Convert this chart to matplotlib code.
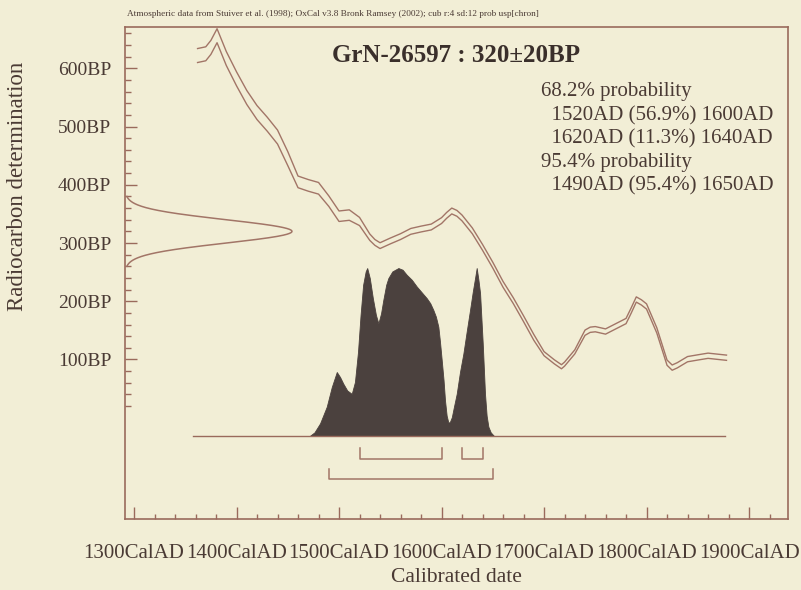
import matplotlib
matplotlib.use('Agg')
import matplotlib.pyplot as plt
import numpy as np

plt.rcParams['font.family'] = ['Liberation Serif', 'DejaVu Serif']

# ---------------- data ----------------
title = "GrN-26597 : 320\u00b120BP"
caption = ("Atmospheric data from Stuiver et al. (1998); OxCal v3.8 Bronk Ramsey (2002); "
           "cub r:4 sd:12 prob usp[chron]")
c14_age = 320
c14_err = 20

cal_years = [1362, 1370, 1375, 1381, 1390, 1400, 1410, 1420, 1430, 1440, 1450, 1460, 1470,
             1480, 1490, 1500, 1510, 1520, 1530, 1535, 1540, 1550, 1560, 1570, 1580, 1590,
             1600, 1605, 1610, 1615, 1620, 1630, 1640, 1650, 1660, 1670, 1680, 1690, 1700, 1710,
             1717, 1720, 1730, 1740, 1745, 1750, 1760, 1770, 1780, 1785, 1790, 1795, 1800, 1810,
             1820, 1825, 1830, 1840, 1850, 1860, 1870, 1878]
cal_center = [622, 625, 636, 656, 617, 582, 550, 524, 504, 482, 445, 405, 399,
              394, 372, 346, 348, 337, 310, 301, 295.5, 303.5, 311, 320, 324, 327.5,
              338.5, 347.5, 355, 351, 343, 321, 292.5, 262, 229, 201, 170, 138, 110, 96,
              87.5, 92, 113, 146, 151, 152, 148, 157, 166, 184, 203, 198, 191, 150,
              94.5, 86, 90, 100.5, 103.5, 106.4, 104.5, 103]
cal_sigma = [12, 12, 12, 12, 12, 12, 12, 12, 12, 12, 12, 10, 10,
             10, 9, 9, 9, 7, 5.5, 5, 5, 5, 5, 5, 5, 5,
             5, 5, 5, 5, 5, 5, 5, 5, 5, 5, 5, 5, 3.5, 3.5,
             3.5, 3.5, 3.5, 4.5, 4.5, 4.5, 4.5, 4.5, 4.5, 4.5, 4.5, 4.5, 4.5, 4.5,
             4.5, 4.5, 4.5, 4.5, 4.5, 4.5, 4.5, 4.5]

post_years = [1471.7, 1476, 1481.5, 1488, 1492.9, 1497.8, 1501, 1504.2, 1508, 1512.4,
              1515.5, 1518.5, 1521, 1523.5, 1526, 1527.5, 1530, 1533, 1536, 1538.4,
              1541, 1543.2, 1546, 1548.1, 1552, 1557.9, 1562, 1566, 1571, 1575.8,
              1580, 1585.6, 1589, 1592, 1594.5, 1596.9, 1598.5, 1600.2, 1602, 1603.4,
              1605, 1606.6, 1608, 1610, 1612, 1614.8, 1618, 1621.3, 1624.5, 1627.8,
              1630.5, 1632.7, 1634.3, 1636, 1637.6, 1640.2, 1642.4, 1644, 1645.7, 1648, 1651]
post_prob = [0.0, 0.02, 0.074, 0.173, 0.29, 0.38, 0.35, 0.31, 0.27, 0.25,
             0.32, 0.5, 0.72, 0.9, 0.98, 1.0, 0.94, 0.82, 0.72, 0.67,
             0.73, 0.81, 0.9, 0.94, 0.98, 1.0, 0.99, 0.96, 0.93, 0.89,
             0.86, 0.82, 0.79, 0.75, 0.71, 0.65, 0.56, 0.45, 0.33, 0.21,
             0.12, 0.08, 0.08, 0.11, 0.17, 0.25, 0.38, 0.49, 0.62, 0.75,
             0.86, 0.94, 1.0, 0.93, 0.85, 0.55, 0.25, 0.12, 0.054, 0.02, 0.0]

range68 = [(1520, 1600), (1620, 1640)]
range95 = [(1490, 1650)]
summary_lines = ["68.2% probability",
                 "  1520AD (56.9%) 1600AD",
                 "  1620AD (11.3%) 1640AD",
                 "95.4% probability",
                 "  1490AD (95.4%) 1650AD"]

x_ticks = [1300, 1400, 1500, 1600, 1700, 1800, 1900]
x_labels = ["1300CalAD", "1400CalAD", "1500CalAD", "1600CalAD",
            "1700CalAD", "1800CalAD", "1900CalAD"]
y_ticks = [100, 200, 300, 400, 500, 600]
y_labels = ["100BP", "200BP", "300BP", "400BP", "500BP", "600BP"]

# ---------------- style / layout ----------------
bg = '#F2EED6'
frame_col = '#9A6A5C'
curve_col = '#A27567'
text_col = '#4A3A34'
fill_col = '#4B413E'

fig = plt.figure(figsize=(8.01, 5.90), dpi=100, facecolor=bg)
ax = fig.add_axes([125 / 801, 1 - 519 / 590, (788 - 125) / 801, (519 - 27) / 590])
ax.set_facecolor(bg)
ax.set_xlim(1291.2, 1938.0)
ax.set_ylim(-174, 671)

for s in ax.spines.values():
    s.set_color(frame_col)
    s.set_linewidth(1.2)

# calibration curve (two lines)
cy = np.array(cal_years, float)
cc = np.array(cal_center, float)
cs = np.array(cal_sigma, float)
ax.plot(cy, cc + cs, color=curve_col, lw=1.0, solid_joinstyle='round')
ax.plot(cy, cc - cs, color=curve_col, lw=1.0, solid_joinstyle='round')

# radiocarbon date distribution on the y axis
bp = np.linspace(c14_age - 3 * c14_err, c14_age + 3 * c14_err, 300)
dens = np.exp(-0.5 * ((bp - c14_age) / c14_err) ** 2)
x0 = 1291.2
ax.plot(x0 + dens * 162.9, bp, color=curve_col, lw=1.1)

# posterior distribution
base = -31.0
scale = 288.0
py = np.array(post_years)
pp = np.array(post_prob)
ax.fill_between(py, base, base + pp * scale, color=fill_col, lw=0.6, edgecolor=fill_col)
ax.plot([cal_years[0] - 4, cal_years[-1] - 1], [base, base], color=frame_col, lw=1.0)

# range brackets
def bracket(a, b, yline, ytop):
    ax.plot([a, a, b, b], [ytop, yline, yline, ytop], color=curve_col, lw=1.1)

for a, b in range68:
    bracket(a, b, -70.1, -52.9)
for a, b in range95:
    bracket(a, b, -104.5, -87.3)

# ticks
ax.set_xticks(x_ticks)
ax.set_xticklabels(x_labels)
ax.set_xticks([y for y in range(1300, 1921, 20) if y not in x_ticks], minor=True)
ax.set_yticks(y_ticks)
ax.set_yticklabels(y_labels)
ax.set_yticks([v for v in range(0, 661, 20) if v not in y_ticks and v != 0], minor=True)
ax.tick_params(axis='x', which='major', direction='in', length=8.4, width=1.0,
               color=frame_col, labelsize=15, labelcolor=text_col, pad=18)
ax.tick_params(axis='x', which='minor', direction='in', length=3.6, width=1.0, color=frame_col)
ax.tick_params(axis='y', which='major', direction='in', length=8.4, width=1.0,
               color=frame_col, labelsize=14, labelcolor=text_col, pad=10)
ax.tick_params(axis='y', which='minor', direction='in', length=4.3, width=1.0, color=frame_col)

# texts
fig.text(127 / 801, 1 - 14.5 / 590, caption, fontsize=6.7, color=text_col, ha='left', va='center')
fig.text(456 / 801, 1 - 55 / 590, title, fontsize=18, fontweight='bold', color='#3A2F2B',
         ha='center', va='center')
line_y = [91.7, 115.5, 139, 162.7, 186]
for txt, yy in zip(summary_lines, line_y):
    fig.text(541 / 801, 1 - yy / 590, txt, fontsize=15, color=text_col, ha='left', va='center')
fig.text(18 / 801, 1 - 186 / 590, "Radiocarbon determination", fontsize=16.5, color=text_col,
         rotation=90, ha='center', va='center')
fig.text(456 / 801, 1 - 578 / 590, "Calibrated date", fontsize=15.5, color=text_col,
         ha='center', va='center')

fig.savefig('out.png', dpi=100, facecolor=bg)
